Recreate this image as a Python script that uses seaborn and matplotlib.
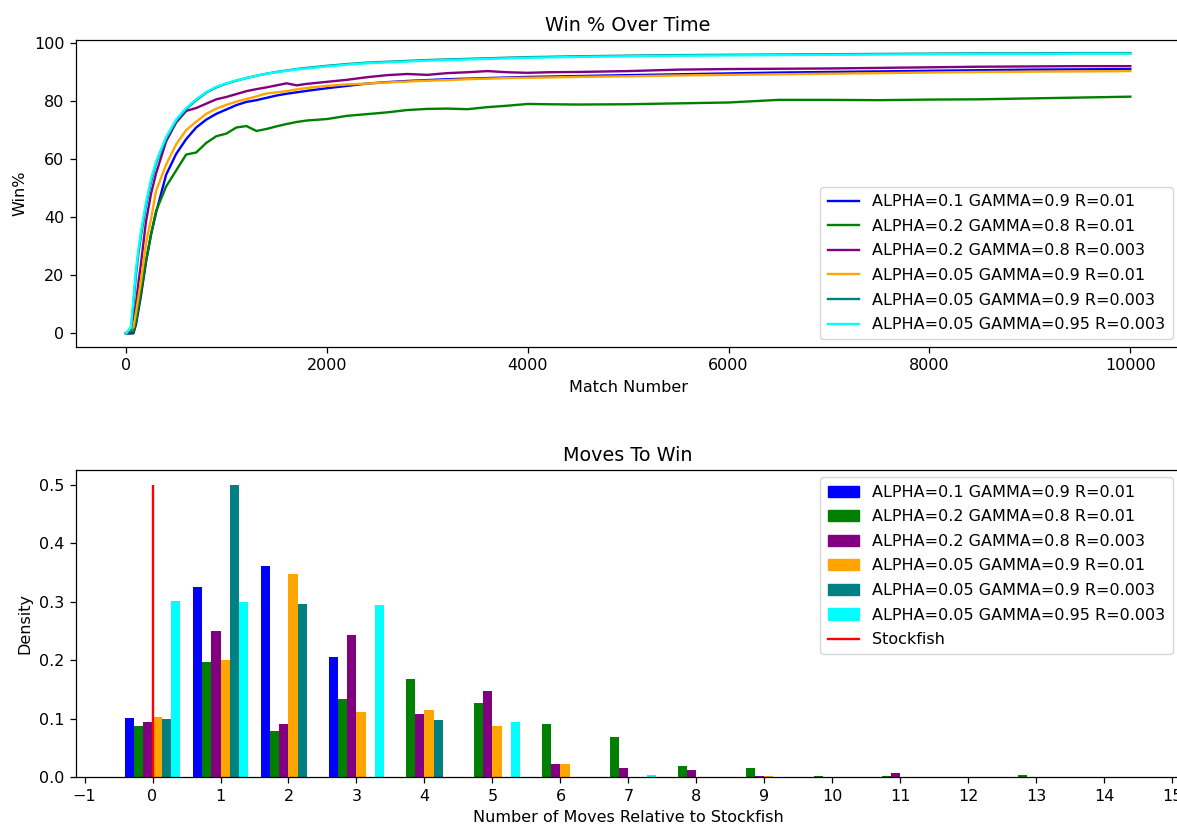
import numpy as np
import pandas as pd
import matplotlib
matplotlib.use("Agg")
import matplotlib.pyplot as plt
import seaborn as sns
from matplotlib.patches import Patch
from matplotlib.lines import Line2D

CONFIGS = [
    "ALPHA=0.1 GAMMA=0.9 R=0.01",
    "ALPHA=0.2 GAMMA=0.8 R=0.01",
    "ALPHA=0.2 GAMMA=0.8 R=0.003",
    "ALPHA=0.05 GAMMA=0.9 R=0.01",
    "ALPHA=0.05 GAMMA=0.9 R=0.003",
    "ALPHA=0.05 GAMMA=0.95 R=0.003",
]
COLORS = ["blue", "green", "purple", "orange", "teal", "cyan"]

# win % over time, sampled from the curves
match_number = [0, 50, 75, 100, 125, 150, 200, 250, 300, 400, 500, 600, 700, 800, 900,
                1000, 1100, 1200, 1300, 1400, 1500, 1600, 1700, 1800, 2000, 2200, 2400,
                2600, 2800, 3000, 3200, 3400, 3600, 3800, 4000, 4200, 4500, 5000, 5500,
                6000, 6500, 7000, 7500, 8000, 8500, 9000, 9500, 10000]

win_a01_g09_r01 = [0, 0, 0, 3, 8, 13, 24.5, 34, 41.5, 54.5, 61.7, 66.8, 70.8, 73.5, 75.5,
                   77, 78.5, 79.6, 80.2, 81, 81.8, 82.4, 82.9, 83.4, 84.3, 85.1, 85.9,
                   86.4, 86.8, 87.1, 87.4, 87.6, 87.8, 88.0, 88.2, 88.3, 88.5, 88.8, 89.1,
                   89.4, 89.7, 89.9, 90.1, 90.3, 90.5, 90.7, 90.8, 90.9]
win_a02_g08_r01 = [0, 0, 0.5, 4, 9, 14, 25, 34, 42, 50.5, 56, 61.5, 62.2, 65.5, 67.8,
                   68.7, 70.8, 71.3, 69.6, 70.3, 71.2, 72, 72.7, 73.2, 73.7, 74.8, 75.4,
                   76.0, 76.8, 77.2, 77.3, 77.1, 77.8, 78.3, 78.9, 78.8, 78.7, 78.8, 79.1,
                   79.4, 80.3, 80.3, 80.2, 80.4, 80.5, 80.8, 81.1, 81.4]
win_a02_g08_r003 = [0, 0.5, 6, 10, 17.5, 24, 38.5, 48, 55, 66, 72.5, 76.5, 77.5, 79, 80.5,
                    81.3, 82.3, 83.3, 84.0, 84.6, 85.3, 86.0, 85.3, 85.8, 86.5, 87.2, 88.1,
                    88.8, 89.2, 88.9, 89.5, 89.8, 90.2, 89.8, 89.6, 89.8, 89.9, 90.2, 90.7,
                    90.9, 91.0, 91.1, 91.3, 91.5, 91.7, 91.8, 91.9, 91.9]
win_a005_g09_r01 = [0, 2, 2, 7, 12.5, 18, 31, 39.3, 49, 58, 65, 69.9, 72.8, 75.5, 77.3,
                    78.6, 79.7, 80.6, 81.5, 82.5, 82.9, 83.3, 83.9, 84.4, 85.1, 85.6, 85.9,
                    86.3, 86.6, 86.9, 87.1, 87.4, 87.6, 87.8, 87.9, 88.0, 88.2, 88.4, 88.7,
                    88.9, 89.1, 89.3, 89.5, 89.7, 89.9, 90.0, 90.1, 90.2]
win_a005_g09_r003 = [0, 1, 10, 20, 27.5, 33.5, 44, 52, 58.5, 67, 73, 77.2, 80.2, 82.8, 84.6,
                     85.9, 86.9, 87.8, 88.6, 89.3, 89.9, 90.4, 90.9, 91.3, 92.0, 92.6, 93.1,
                     93.4, 93.7, 94.0, 94.2, 94.4, 94.6, 94.8, 95.0, 95.1, 95.3, 95.5, 95.7,
                     95.8, 95.9, 96.0, 96.1, 96.2, 96.3, 96.3, 96.4, 96.4]
win_a005_g095_r003 = [0, 2, 12, 22, 29, 35, 45, 53, 59, 67.5, 73.5, 77.5, 80.5, 83, 84.8,
                      86, 87, 87.8, 88.6, 89.3, 89.8, 90.3, 90.8, 91.1, 91.8, 92.4, 92.9,
                      93.2, 93.5, 93.8, 94.0, 94.2, 94.4, 94.6, 94.8, 94.9, 95.1, 95.3, 95.5,
                      95.6, 95.7, 95.8, 95.9, 96.0, 96.1, 96.1, 96.2, 96.2]

WIN_SERIES = [win_a01_g09_r01, win_a02_g08_r01, win_a02_g08_r003,
              win_a005_g09_r01, win_a005_g09_r003, win_a005_g095_r003]

# moves-to-win density per bin (moves relative to stockfish)
moves = list(range(14))
dens_a01_g09_r01 = [0.101, 0.325, 0.361, 0.206, 0, 0, 0, 0, 0, 0, 0, 0, 0, 0]
dens_a02_g08_r01 = [0.088, 0.197, 0.0786, 0.134, 0.169, 0.1265, 0.0906, 0.0689,
                    0.0193, 0.0159, 0.003, 0.002, 0, 0.004]
dens_a02_g08_r003 = [0.094, 0.250, 0.0906, 0.243, 0.108, 0.1475, 0.0233, 0.0159,
                     0.012, 0.002, 0, 0.0075, 0, 0]
dens_a005_g09_r01 = [0.1026, 0.2005, 0.347, 0.1116, 0.116, 0.088, 0.0233, 0, 0,
                     0.002, 0, 0, 0, 0]
dens_a005_g09_r003 = [0.100, 0.500, 0.296, 0, 0.098, 0, 0, 0, 0, 0, 0, 0, 0, 0]
dens_a005_g095_r003 = [0.301, 0.299, 0, 0.295, 0, 0.0945, 0, 0.004, 0, 0, 0, 0, 0, 0]

DENS_SERIES = [dens_a01_g09_r01, dens_a02_g08_r01, dens_a02_g08_r003,
               dens_a005_g09_r01, dens_a005_g09_r003, dens_a005_g095_r003]

stockfish_moves = 0
stockfish_height = 0.5


def setup_style():
    # matplotlib defaults, scaled up a little
    plt.rcParams.update({
        "font.size": 11.5,
        "axes.titlesize": 13.8,
        "axes.linewidth": 0.9,
        "xtick.major.size": 4,
        "ytick.major.size": 4,
        "xtick.major.width": 0.9,
        "ytick.major.width": 0.9,
        "xtick.major.pad": 4,
        "ytick.major.pad": 4,
        "axes.titlepad": 6,
        "axes.labelpad": 4.5,
        "legend.labelspacing": 0.6,
        "legend.borderpad": 0.45,
    })


def main():
    setup_style()
    palette = dict(zip(CONFIGS, COLORS))

    fig = plt.figure(figsize=(11.77, 8.25), dpi=100)
    ax1 = fig.add_axes([0.0643, 0.5790, 0.9387, 0.3729])
    ax2 = fig.add_axes([0.0643, 0.0576, 0.9387, 0.3733])

    # top: win % over time
    for name, vals in zip(CONFIGS, WIN_SERIES):
        sns.lineplot(x=match_number, y=vals, color=palette[name], label=name,
                     errorbar=None, linewidth=1.7, ax=ax1)
    ax1.set_xlim(-500, 10500)
    ax1.set_ylim(-4.8, 101.0)
    ax1.set_title("Win % Over Time")
    ax1.set_xlabel("Match Number")
    ax1.set_ylabel("Win%")
    ax1.legend(loc="lower right")

    # bottom: moves to win
    rows = []
    for name, vals in zip(CONFIGS, DENS_SERIES):
        for m, d in zip(moves, vals):
            rows.append({"moves": m, "density": d, "config": name})
    bar_df = pd.DataFrame(rows)

    sns.barplot(data=bar_df, x="moves", y="density", hue="config",
                hue_order=CONFIGS, palette=palette, native_scale=True,
                width=0.8, saturation=1, errorbar=None, linewidth=0,
                legend=False, ax=ax2)
    ax2.vlines(stockfish_moves, 0, stockfish_height, color="red", linewidth=1.7)

    ax2.set_xticks(range(-1, 16))
    ax2.set_xlim(-1.13, 15.12)
    ax2.set_ylim(0, 0.526)
    ax2.set_title("Moves To Win")
    ax2.set_xlabel("Number of Moves Relative to Stockfish")
    ax2.set_ylabel("Density")

    handles = [Patch(color=palette[n], label=n) for n in CONFIGS]
    handles.append(Line2D([0], [0], color="red", linewidth=1.7, label="Stockfish"))
    ax2.legend(handles=handles, loc="upper right")

    fig.savefig("out.png", dpi=100)
    plt.close(fig)


if __name__ == "__main__":
    main()
